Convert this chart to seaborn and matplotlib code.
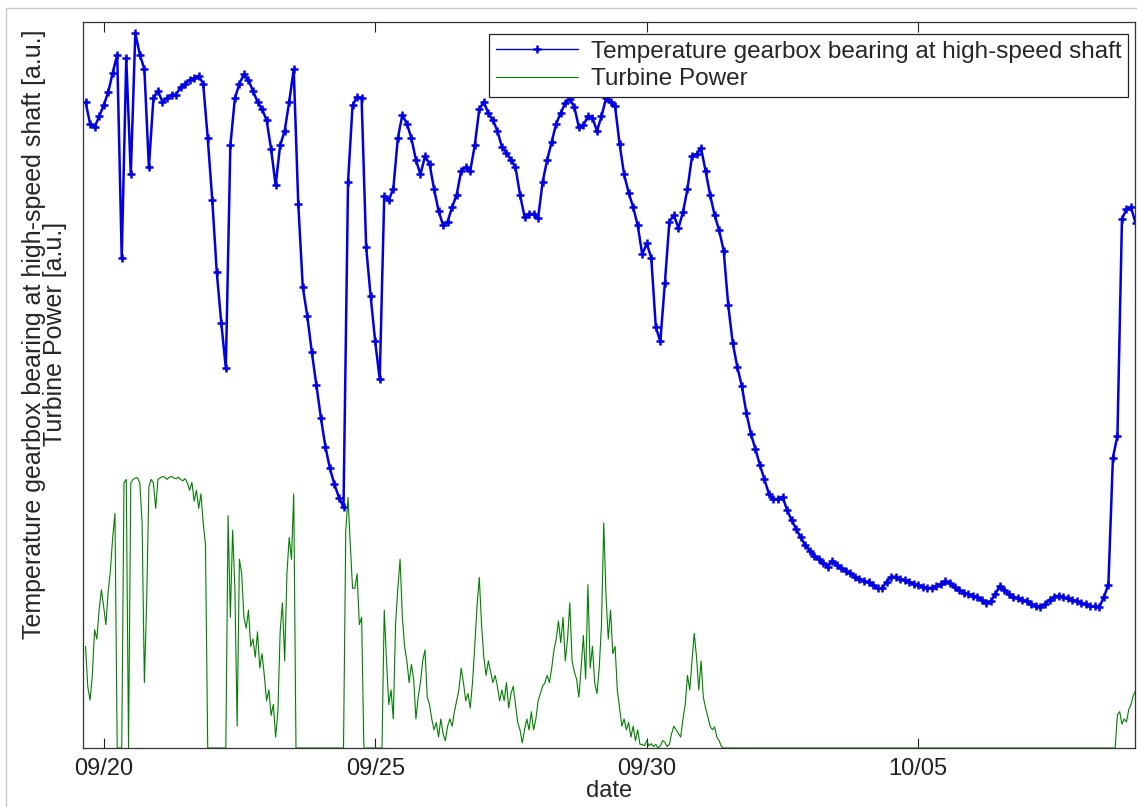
import numpy as np
import pandas as pd
import matplotlib
matplotlib.use('Agg')
import matplotlib.pyplot as plt
import seaborn as sns
from matplotlib.lines import Line2D

# temperature: one sample every 2 hours starting 09/19 16:00 (one row = one day)
# values in a.u., 0 = bottom of the axes, 100 = top
temp_gearbox = [
    89, 86, 85.5, 87, 88.5, 90.3, 93, 95.5, 67.5, 95, 79, 98.5,
    95.5, 93.5, 80, 89.5, 90.5, 89, 89.5, 90, 90, 91, 91.5, 92,
    92.3, 92.6, 91.5, 84, 75.5, 65.5, 58.5, 52.3, 83, 89.5, 91.5, 92.8,
    92, 90.5, 89, 88, 86.5, 82.5, 77.5, 83, 85, 89, 93.5, 75,
    63.5, 59.5, 54.5, 50, 45.5, 41.5, 38.5, 36.3, 34.5, 33.2, 78, 88.5,
    89.7, 89.5, 69, 62.2, 56, 50.8, 76, 75.5, 77, 84, 87.2, 86,
    84, 81, 79, 81.5, 80.5, 77, 74, 72, 72.5, 74.5, 76.2, 79.5,
    80, 79.5, 83, 88, 89, 87.4, 86.5, 85, 82.8, 82, 81, 80,
    76.2, 73.2, 73.5, 73.6, 73, 78, 81, 83.5, 86, 87.5, 88.8, 89.4,
    88.3, 85.5, 85.8, 87, 86.8, 85, 87, 89.5, 89, 88.4, 83.2, 79,
    76.5, 74.5, 72, 68, 69.5, 67.5, 58, 56, 64, 72.5, 73.4, 71.6,
    73.8, 77, 81.5, 81.8, 82.6, 79.5, 76.2, 73.4, 71.3, 68.5, 61, 55.8,
    52.5, 49.9, 46.2, 43.3, 41.2, 39, 37, 35, 34.3, 34.3, 34.6, 32.8,
    31.4, 30.2, 29, 28, 27.2, 26.5, 26, 25.5, 25, 25.8, 25.2, 24.8,
    24.4, 24.1, 23.6, 23.3, 23, 22.8, 22.4, 22, 22, 22.9, 23.6, 23.6,
    23.3, 23.1, 22.9, 22.6, 22.4, 22.2, 22, 22.1, 22.3, 22.6, 23, 22.7,
    22.2, 21.8, 21.4, 21.2, 21, 20.8, 20.4, 20, 20.2, 21.2, 22.3, 21.8,
    21.2, 20.8, 20.6, 20.4, 20.2, 19.9, 19.6, 19.4, 19.8, 20.4, 20.8, 21,
    20.8, 20.6, 20.4, 20.2, 20, 19.8, 19.6, 19.5, 19.4, 20.8, 22.5, 40,
    43, 72.9, 74.2, 74.5, 72.3,
]

# power: one sample every hour starting 09/19 16:00 (one row = half a day)
turbine_power = [
    14, 8.4, 6.6, 10, 16.3, 15, 19, 21.8, 19.5, 17, 21.5, 24.5,
    29, 32.3, 0, 0, 0, 36.5, 37, 0, 36.5, 37, 37.2, 37.2,
    36.5, 31, 9, 20, 36, 37, 36.5, 33, 37, 37.2, 37.4, 37.3,
    37.0, 37.3, 37.4, 37.2, 37.1, 37.3, 37.0, 36.8, 37.1, 36.5, 35.5, 36.6,
    34, 35.5, 33, 35, 31, 28, 0, 0, 0, 0, 0, 0,
    0, 0, 0, 32, 18, 30, 22, 3, 26, 24, 18, 16.5,
    19, 14, 15, 12.5, 16, 11, 13, 10, 6.5, 8, 4.5, 6,
    1.5, 5, 16, 20, 12, 24, 29, 26, 35, 0, 0, 0,
    0, 0, 0, 0, 0, 0, 0, 0, 0, 0, 0, 0,
    0, 0, 0, 0, 0, 0, 0, 30, 34.5, 28, 22, 22,
    24, 17, 18, 0, 0, 0, 0, 0, 0, 0, 0, 0,
    19, 12, 6, 8, 4, 17, 22, 26, 18, 14, 12, 9,
    11.5, 9.5, 4, 7, 9, 12, 13.5, 7, 6, 4, 2.5, 3.5,
    1.5, 4, 2, 1, 3, 4, 3, 5, 6.5, 8, 11, 9,
    6.5, 7.5, 5.5, 9, 14, 19.5, 23.5, 17, 12.5, 10, 12, 10.5,
    9, 10, 8.5, 6.5, 8, 6.5, 9, 5.5, 7.5, 8.5, 6, 3.5,
    2.5, 0.7, 2.5, 4, 2.5, 5, 2.5, 4, 6.5, 7.5, 8.5, 9,
    10, 9, 11, 13.5, 15, 17.5, 14.5, 18, 12, 15, 20, 12,
    10.5, 9.5, 7, 11, 15.5, 9.5, 22.5, 11, 14, 9, 7.5, 11,
    17, 31, 21, 15, 19, 13, 14, 8, 5.5, 3, 4, 2.5,
    3.5, 1.5, 3, 1, 2.5, 0.5, 0.5, 0.3, 1, 0.3, 0.6, 0.2,
    0.5, 0, 0.3, 1, 0.8, 0.2, 0.5, 2, 3, 2.5, 2, 1.5,
    4, 6, 10, 8, 12, 15.8, 12.5, 8, 12, 7, 5.5, 4.3,
    3, 2.5, 2.9, 1.5, 1, 0.2, 0, 0, 0, 0, 0, 0,
    0, 0, 0, 0, 0, 0, 0, 0, 0, 0, 0, 0,
    0, 0, 0, 0, 0, 0, 0, 0, 0, 0, 0, 0,
    0, 0, 0, 0, 0, 0, 0, 0, 0, 0, 0, 0,
    0, 0, 0, 0, 0, 0, 0, 0, 0, 0, 0, 0,
    0, 0, 0, 0, 0, 0, 0, 0, 0, 0, 0, 0,
    0, 0, 0, 0, 0, 0, 0, 0, 0, 0, 0, 0,
    0, 0, 0, 0, 0, 0, 0, 0, 0, 0, 0, 0,
    0, 0, 0, 0, 0, 0, 0, 0, 0, 0, 0, 0,
    0, 0, 0, 0, 0, 0, 0, 0, 0, 0, 0, 0,
    0, 0, 0, 0, 0, 0, 0, 0, 0, 0, 0, 0,
    0, 0, 0, 0, 0, 0, 0, 0, 0, 0, 0, 0,
    0, 0, 0, 0, 0, 0, 0, 0, 0, 0, 0, 0,
    0, 0, 0, 0, 0, 0, 0, 0, 0, 0, 0, 0,
    0, 0, 0, 0, 0, 0, 0, 0, 0, 0, 0, 0,
    4.6, 5, 3.3, 4, 3.6, 5.3, 6, 7.2, 7.9,
]

tick_days = [0, 5, 10, 15]
tick_labels = ['09/20', '09/25', '09/30', '10/05']

# days since 09/20 00:00
temp_df = pd.DataFrame({'day': -1 / 3 + np.arange(len(temp_gearbox)) / 12,
                        'value': temp_gearbox})
power_df = pd.DataFrame({'day': -1 / 3 + np.arange(len(turbine_power)) / 24,
                         'value': turbine_power})

sns.set_theme(style='white')
plt.rcParams['font.family'] = ['Liberation Sans', 'DejaVu Sans']

W, H = 1137, 807
fig = plt.figure(figsize=(W / 100, H / 100), dpi=100)
ax = fig.add_axes([83 / W, 1 - 748 / H, (1135 - 83) / W, (748 - 22) / H])

blue = '#0000e0'
sns.lineplot(data=temp_df, x='day', y='value', ax=ax, color=blue, lw=1.8,
             marker='+', markersize=5.5, markeredgewidth=1.8,
             markeredgecolor=blue,
             label='Temperature gearbox bearing at high-speed shaft')
sns.lineplot(data=power_df, x='day', y='value', ax=ax, color='#007f00',
             lw=0.8, label='Turbine Power')

ax.set_xlim(-0.38, 18.99)
ax.set_ylim(0, 100)
ax.set_xticks(tick_days)
ax.set_xticklabels(tick_labels)
ax.set_yticks([])
ax.tick_params(axis='x', direction='in', length=7, width=0.8, top=True,
               bottom=True, labelsize=17, pad=7, colors='#222222')
for sp in ax.spines.values():
    sp.set_visible(True)
    sp.set_color('#333333')
    sp.set_linewidth(0.9)

ax.set_xlabel('date', fontsize=17, labelpad=0)
ax.set_ylabel('Temperature gearbox bearing at high-speed shaft [a.u.]\nTurbine Power [a.u.]',
              fontsize=18, linespacing=0.8)
ax.yaxis.set_label_coords(-0.0155, 0.57)

leg = ax.legend(loc='upper right', bbox_to_anchor=(0.9933, 0.9835),
                borderaxespad=0, fontsize=17.5, handlelength=3.4,
                handletextpad=0.5, borderpad=0.28, labelspacing=0.22,
                fancybox=False, framealpha=1, edgecolor='#222222')
leg.get_frame().set_linewidth(0.9)
# thin line in the legend, as in the original
leg.get_lines()[0].set_linewidth(1.0)

# thin frame of the screenshot
fig.add_artist(Line2D([6 / W, 1], [1 - 8 / H, 1 - 8 / H], color='#c8c8c8', lw=1))
fig.add_artist(Line2D([6 / W, 6 / W], [0, 1 - 8 / H], color='#c8c8c8', lw=1))

fig.savefig('out.png', dpi=100)
